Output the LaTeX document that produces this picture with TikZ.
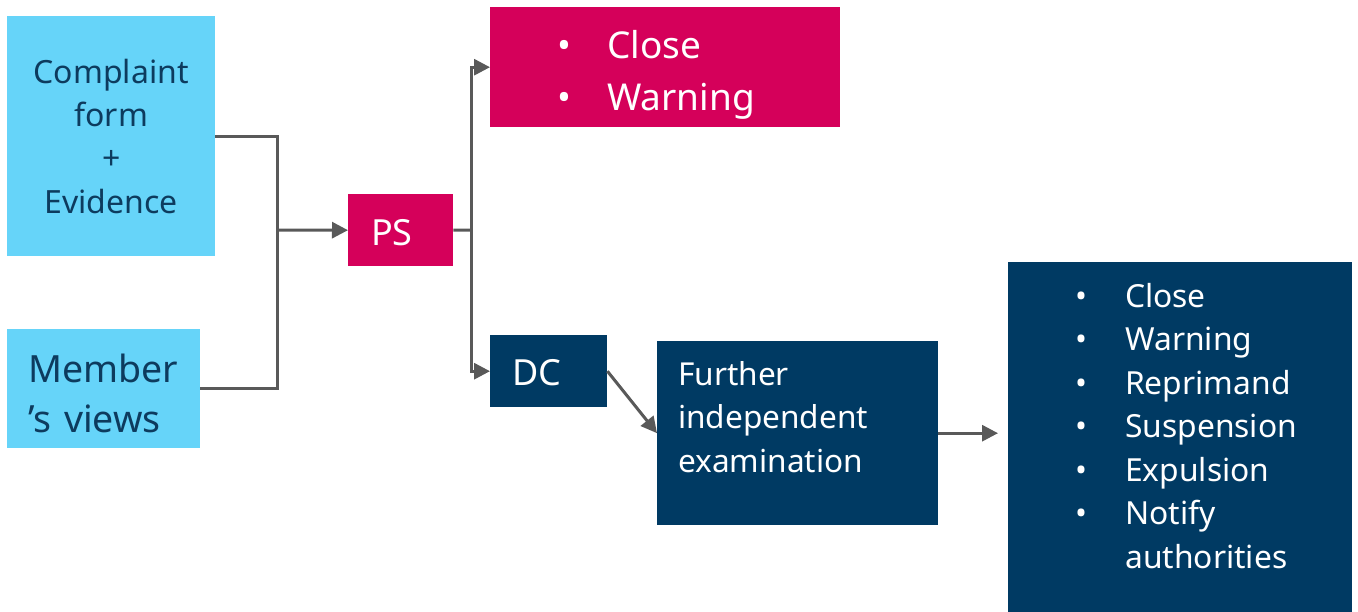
\documentclass[tikz,border=0pt]{standalone}
\usepackage{fontspec}
\setmainfont{Noto Sans}
\usetikzlibrary{arrows.meta, positioning, calc}
\definecolor{skyblue}{HTML}{66D4F9}
\definecolor{rosered}{HTML}{D5005A}
\definecolor{deepnavy}{HTML}{003A63}
\definecolor{textnavy}{HTML}{0D3B5E}
\definecolor{linegray}{HTML}{595959}
\newcommand{\bul}[1]{\makebox[#1][l]{•}}

\begin{document}
\begin{tikzpicture}[
    x=1pt, y=-1pt,
    box/.style={rectangle, anchor=north west, inner ysep=0pt, align=left}, % filled block, placed by its top-left corner
    lightbox/.style={box, fill=skyblue, text=textnavy}, % inputs
    pinkbox/.style={box, fill=rosered, text=white},     % PS stage
    navybox/.style={box, fill=deepnavy, text=white},    % DC stage
    link/.style={linegray, line width=3pt},             % plain connector
    flow/.style={link, -{Triangle[length=16pt, width=16pt]}} % connector with arrow
]
    \useasboundingbox (0,0) rectangle (1358,612);

    % 1. inputs
    \node[lightbox, align=center, inner xsep=0pt, text width=208pt,
          text height=67pt, text depth=173pt, font=\fontsize{32}{43.3}\selectfont]
          (comp) at (7,16) {Complaint\\form\\+\\Evidence};
    \node[lightbox, inner xsep=21pt, text width=151pt,
          text height=53pt, text depth=66pt, font=\fontsize{37.5}{50}\selectfont]
          (mem) at (7,329) {Member\\’s views};

    % 2. PS and its outcomes
    \node[pinkbox, inner xsep=23pt, text width=59pt,
          text height=51pt, text depth=21pt, font=\fontsize{36}{50}\selectfont]
          (ps) at (348,194) {PS};
    \node[pinkbox, inner xsep=67pt, text width=216pt,
          text height=51pt, text depth=69pt, font=\fontsize{37}{52}\selectfont]
          (cw) at (490,7) {\bul{50pt}Close\\\bul{50pt}Warning};

    % 3. DC branch
    \node[navybox, inner xsep=22pt, text width=73pt,
          text height=50pt, text depth=22pt, font=\fontsize{36}{50}\selectfont]
          (dc) at (490,335) {DC};
    \node[navybox, inner xsep=21pt, text width=239pt,
          text height=44pt, text depth=140pt, font=\fontsize{31.6}{43.5}\selectfont]
          (fie) at (657,341) {Further\\independent\\examination};
    \node[navybox, inner xsep=67pt, text width=210pt,
          text height=45pt, text depth=305pt, font=\fontsize{31.8}{43.5}\selectfont]
          (sanc) at (1008,262) {\bul{50pt}Close\\\bul{50pt}Warning\\\bul{50pt}\mbox{Reprimand}\\
          \bul{50pt}\mbox{Suspension}\\\bul{50pt}\mbox{Expulsion}\\\bul{50pt}Notify\\\hspace*{50pt}\mbox{authorities}};

    % 4. connectors
    \coordinate (merge) at (277,230);
    \coordinate (split) at (471,230);
    \draw[link] (comp.east) -| (merge) |- (mem.east);
    \draw[flow] (merge) -- (ps.west);
    \draw[link] (ps.east) -- (split);
    \draw[flow] (split) |- (cw.west);
    \draw[flow] (split) |- (dc.west);
    \draw[flow] (dc.east) -- (fie.west);
    \draw[flow, shorten >=10pt] (fie.east) -- (fie.east -| sanc.west);

\end{tikzpicture}
\end{document}
